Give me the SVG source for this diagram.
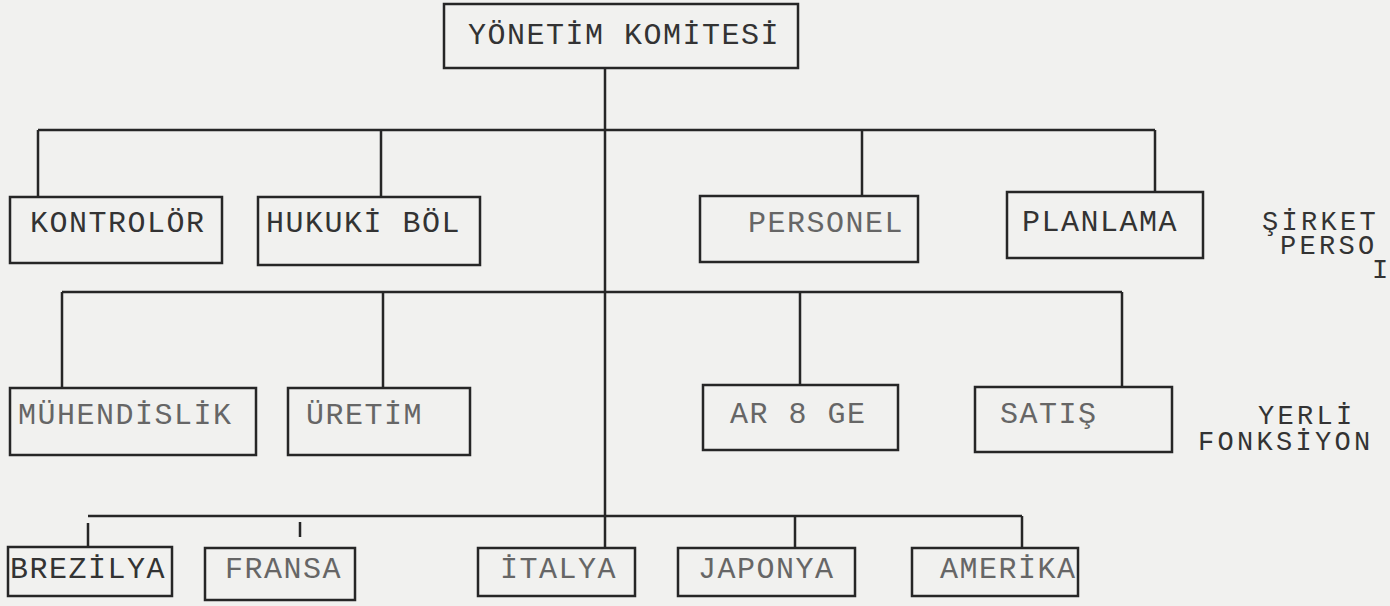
<svg xmlns="http://www.w3.org/2000/svg" width="1390" height="606" viewBox="0 0 1390 606">
<style>
.box{fill:none;stroke:#262626;stroke-width:2.5}
.ln{stroke:#262626;stroke-width:2.5;fill:none}
text{font-family:"Liberation Mono","DejaVu Sans Mono",monospace;font-size:30px;fill:#333;letter-spacing:1.5px}
.lt{fill:#666}
.side{font-size:27px;letter-spacing:3.3px}
</style>
<rect x="0" y="0" width="1390" height="606" fill="#f1f1ef"/>
<g id="connectors">
<path class="ln" d="M605 68 V548"/>
<path class="ln" d="M38 130 H1155 M38 130 V197 M381 130 V197 M862 130 V196 M1155 130 V192"/>
<path class="ln" d="M62 292 H1122 M62 292 V388 M383 292 V388 M800 292 V385 M1122 292 V387"/>
<path class="ln" d="M88 516 H1022 M88 523 V547 M300 522 V537 M795 516 V548 M1022 516 V548"/>
</g>
<g id="yonetim"><rect class="box" x="444" y="4" width="354" height="64"/><text x="468" y="44">YÖNETİM KOMİTESİ</text></g>
<g id="kontrolor"><rect class="box" x="10" y="197" width="212" height="66"/><text x="30" y="232">KONTROLÖR</text></g>
<g id="hukuki"><rect class="box" x="258" y="197" width="222" height="68"/><text x="266" y="232">HUKUKİ BÖL</text></g>
<g id="personel"><rect class="box" x="700" y="196" width="218" height="66"/><text class="lt" x="748" y="232">PERSONEL</text></g>
<g id="planlama"><rect class="box" x="1007" y="192" width="196" height="66"/><text x="1022" y="231">PLANLAMA</text></g>
<g id="label-sirket"><text class="side" x="1262" y="230">ŞİRKET</text><text class="side" x="1280" y="254">PERSO</text><text class="side" x="1372" y="278">I</text></g>
<g id="muhendislik"><rect class="box" x="10" y="388" width="246" height="67"/><text class="lt" x="18" y="424">MÜHENDİSLİK</text></g>
<g id="uretim"><rect class="box" x="288" y="388" width="182" height="67"/><text class="lt" x="306" y="424">ÜRETİM</text></g>
<g id="arge"><rect class="box" x="703" y="385" width="195" height="65"/><text class="lt" x="730" y="423">AR 8 GE</text></g>
<g id="satis"><rect class="box" x="975" y="387" width="197" height="65"/><text class="lt" x="1000" y="423">SATIŞ</text></g>
<g id="label-yerli"><text class="side" x="1258" y="424">YERLİ</text><text class="side" x="1198" y="450">FONKSİYON</text></g>
<g id="brezilya"><rect class="box" x="8" y="547" width="164" height="49"/><text x="10" y="578">BREZİLYA</text></g>
<g id="fransa"><rect class="box" x="205" y="548" width="150" height="52"/><text class="lt" x="225" y="578">FRANSA</text></g>
<g id="italya"><rect class="box" x="478" y="548" width="157" height="48"/><text class="lt" x="500" y="578">İTALYA</text></g>
<g id="japonya"><rect class="box" x="678" y="548" width="177" height="48"/><text class="lt" x="698" y="578">JAPONYA</text></g>
<g id="amerika"><rect class="box" x="912" y="548" width="166" height="48"/><text class="lt" x="940" y="578">AMERİKA</text></g>
</svg>
